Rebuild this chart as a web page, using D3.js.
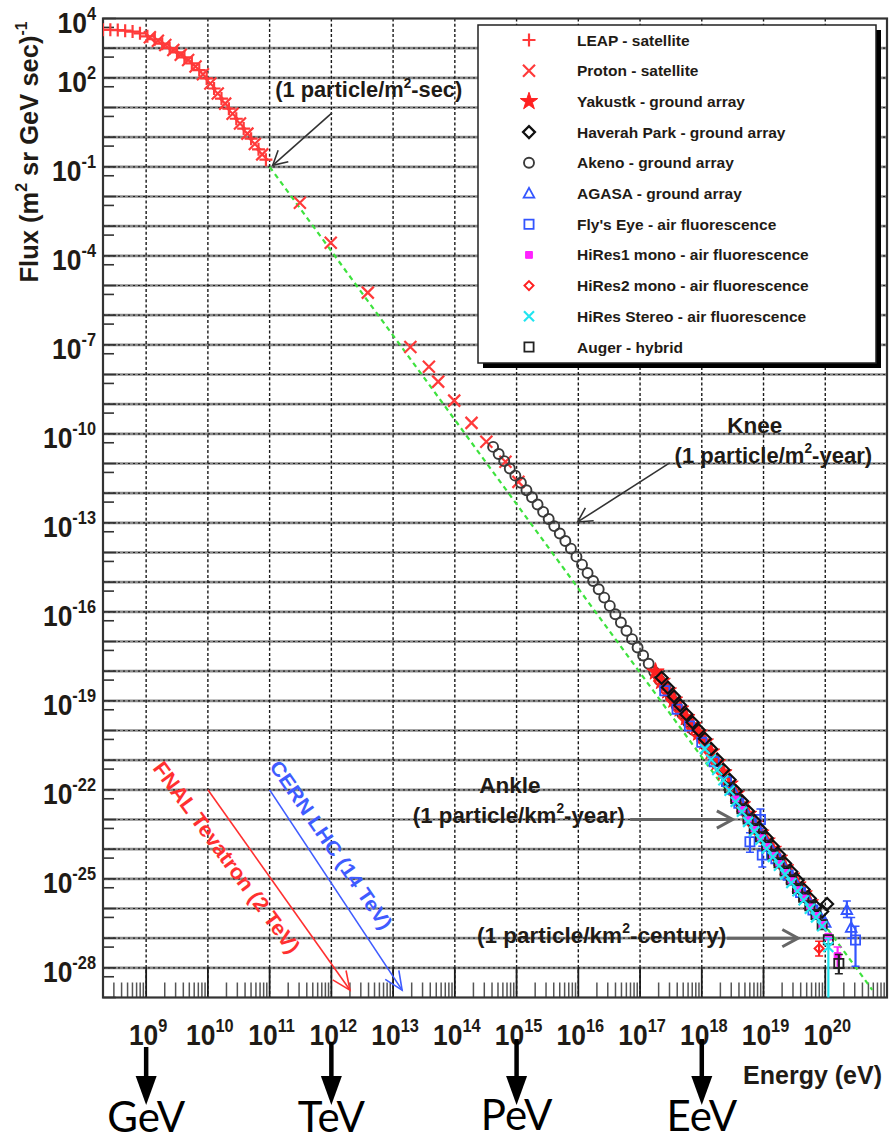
<!DOCTYPE html>
<html><head><meta charset="utf-8">
<script src="https://cdn.jsdelivr.net/npm/d3@7"></script>
<style>body{margin:0;background:#fff}</style>
</head><body>
<svg id="c" width="893" height="1141" xmlns="http://www.w3.org/2000/svg"></svg>
<script>
// ---------------- DATA (log10 Energy [eV], log10 Flux) ----------------
const xTickExps = [9,10,11,12,13,14,15,16,17,18,19,20];
const yTickExps = [4,2,-1,-4,-7,-10,-13,-16,-19,-22,-25,-28];
const unitLabels = ["GeV","TeV","PeV","EeV"];
const unitExps = [9,12,15,18];

const leap = [[8.30,3.62],[8.42,3.62],[8.54,3.61],[8.66,3.59],[8.78,3.56],[8.90,3.50],[9.02,3.40],[9.14,3.30],[9.26,3.15],[9.38,3.00],[9.50,2.86],[9.62,2.69],[9.74,2.49],[9.86,2.26],[9.98,1.98],[10.10,1.64],[10.22,1.30],[10.34,0.96],[10.46,0.62],[10.58,0.29],[10.70,-0.05],[10.82,-0.41],[10.94,-0.76]];
const proton = [[9.06,3.37],[9.19,3.25],[9.31,3.11],[9.44,2.94],[9.56,2.78],[9.68,2.60],[9.80,2.38],[9.92,2.12],[10.04,1.81],[10.16,1.47],[10.28,1.13],[10.40,0.79],[10.52,0.46],[10.64,0.12],[10.76,-0.23],[10.88,-0.58],[11.49,-2.21],[11.99,-3.56],[12.59,-5.24],[13.28,-7.07],[13.58,-7.74],[13.73,-8.24],[13.99,-8.88],[14.27,-9.63],[14.51,-10.27],[14.82,-10.94],[15.03,-11.62]];
const akeno = [[14.62,-10.44],[14.71,-10.68],[14.80,-10.92],[14.89,-11.17],[14.98,-11.41],[15.07,-11.65],[15.16,-11.90],[15.25,-12.14],[15.34,-12.38],[15.43,-12.63],[15.52,-12.87],[15.61,-13.11],[15.70,-13.36],[15.79,-13.61],[15.88,-13.87],[15.97,-14.14],[16.06,-14.41],[16.15,-14.69],[16.24,-14.96],[16.33,-15.24],[16.42,-15.52],[16.51,-15.80],[16.60,-16.08],[16.69,-16.36],[16.78,-16.64],[16.87,-16.92],[16.96,-17.20],[17.05,-17.47],[17.14,-17.75],[17.23,-18.03],[17.32,-18.31],[17.41,-18.59],[17.50,-18.87],[17.59,-19.15],[17.68,-19.43],[17.77,-19.71],[17.86,-19.98]];
const yakutsk = [[17.25,-18.02],[17.35,-18.34],[17.45,-18.66],[17.55,-18.97],[17.65,-19.27],[17.75,-19.56],[17.85,-19.83],[17.95,-20.08],[18.05,-20.38],[18.15,-20.72],[18.25,-21.08],[18.35,-21.42],[18.45,-21.80],[18.55,-22.14],[18.65,-22.50],[18.75,-22.82],[18.85,-23.15],[18.95,-23.45],[19.05,-23.72],[19.15,-24.00],[19.25,-24.30],[19.35,-24.62],[19.45,-24.90],[19.55,-25.20],[19.65,-25.50],[19.75,-25.80]];
const haverah = [[17.35,-18.22],[17.45,-18.55],[17.55,-18.85],[17.65,-19.15],[17.75,-19.45],[17.85,-19.72],[17.95,-19.98],[18.05,-20.28],[18.15,-20.62],[18.25,-20.98],[18.35,-21.32],[18.45,-21.66],[18.55,-22.04],[18.65,-22.38],[18.75,-22.72],[18.85,-23.04],[18.95,-23.34],[19.05,-23.62],[19.15,-23.90],[19.25,-24.18],[19.35,-24.48],[19.45,-24.76],[19.55,-25.05],[19.65,-25.36],[19.75,-25.66],[19.85,-25.95],[19.95,-26.10],[20.03,-25.85]];
const agasa = [[18.50,-22.00],[18.60,-22.36],[18.70,-22.70],[18.80,-23.02],[18.90,-23.32],[19.00,-23.60],[19.10,-23.90],[19.20,-24.18],[19.30,-24.48],[19.40,-24.76],[19.50,-25.06],[19.60,-25.35],[19.70,-25.64],[19.80,-25.92],[19.90,-26.20],[20.00,-26.48],[20.35,-26.05,-26.30,-25.75],[20.42,-26.65,-27.00,-26.30]];
const flysEye = [[17.40,-18.66],[17.60,-19.28],[17.80,-19.85],[18.00,-20.40],[18.20,-21.05],[18.40,-21.72],[18.60,-22.45],[18.78,-23.75,-24.10,-23.45],[18.95,-23.00,-23.30,-22.65],[18.98,-24.20,-24.60,-23.90],[19.20,-24.32],[19.40,-24.88],[19.60,-25.46],[19.80,-26.05],[20.49,-27.06,-27.95,-26.60]];
const hires1 = [[18.55,-22.32],[18.65,-22.68],[18.75,-23.02],[18.85,-23.35],[18.95,-23.63],[19.05,-23.92],[19.15,-24.22],[19.25,-24.50],[19.35,-24.80],[19.45,-25.08],[19.55,-25.38],[19.65,-25.66],[19.75,-25.96],[19.85,-26.25],[19.95,-26.55],[20.05,-26.95],[20.20,-27.60,-28.00,-27.30]];
const hires2 = [[17.30,-18.33],[17.40,-18.65],[17.50,-18.96],[17.60,-19.27],[17.70,-19.56],[17.80,-19.85],[17.90,-20.10],[18.00,-20.35],[18.10,-20.70],[18.20,-21.05],[18.30,-21.40],[18.40,-21.75],[18.50,-22.11],[18.60,-22.47],[18.70,-22.81],[18.80,-23.15],[18.90,-23.44],[19.00,-23.73],[19.10,-24.02],[19.20,-24.31],[19.30,-24.60],[19.40,-24.89],[19.90,-27.35,-27.60,-27.10]];
const hiresStereo = [[18.05,-20.62],[18.15,-20.98],[18.25,-21.33],[18.35,-21.68],[18.45,-22.03],[18.55,-22.40],[18.65,-22.74],[18.75,-23.08],[18.85,-23.40],[18.95,-23.68],[19.05,-23.98],[19.15,-24.26],[19.25,-24.56],[19.35,-24.85],[19.45,-25.14],[19.55,-25.42],[19.65,-25.72],[19.75,-26.01],[19.85,-26.30],[19.95,-26.60],[20.05,-27.30,-29.50,-27.00]];
const auger = [[18.45,-21.93],[18.55,-22.29],[18.65,-22.64],[18.75,-22.98],[18.85,-23.30],[18.95,-23.58],[19.05,-23.87],[19.15,-24.17],[19.25,-24.46],[19.35,-24.74],[19.45,-25.03],[19.55,-25.33],[19.65,-25.62],[19.75,-25.91],[19.85,-26.20],[19.95,-26.55],[20.05,-27.05],[20.22,-27.85,-28.20,-27.55]];
const fitLine = [[11.0,-1.0],[20.76,-28.74]];
const tevatron = [[10.0,-22.0],[12.301,-28.75]];   // 2 TeV
const lhc = [[11.0,-22.0],[13.146,-28.75]];        // 14 TeV
const legendNames = ["LEAP - satellite","Proton - satellite","Yakustk - ground array","Haverah Park - ground array","Akeno - ground array","AGASA - ground array","Fly's Eye - air fluorescence","HiRes1 mono - air fluorescence","HiRes2 mono - air fluorescence","HiRes Stereo - air fluorescence","Auger - hybrid"];

// ---------------- SETUP ----------------
const P = v => Math.pow(10, v);
const svg = d3.select('#c');
const L = 103, R = 887, T = 18.5, B = 997.5;
const x = d3.scaleLog().domain([2e8, 1e21]).range([L, R]);
const y = d3.scaleLog().domain([1e-29, 1e4]).range([B, T]);
const X = e => x(P(e)), Y = f => y(P(f));
const FONT = '"Liberation Sans", Arial, Helvetica, sans-serif';
const TXT = '#1f1b16';

svg.append('defs').append('clipPath').attr('id','clip')
  .append('rect').attr('x',L).attr('y',T).attr('width',R-L).attr('height',B-T);

// ---------------- GRID ----------------
const grid = svg.append('g');
d3.range(-28, 4).forEach(k => {
  grid.append('line').attr('x1',L).attr('x2',R).attr('y1',Y(k)).attr('y2',Y(k))
    .attr('stroke','#8a8a8a').attr('stroke-width',2.6);
  grid.append('line').attr('x1',L).attr('x2',R).attr('y1',Y(k)).attr('y2',Y(k))
    .attr('stroke','#222').attr('stroke-width',1.2).attr('stroke-dasharray','2,3');
});
xTickExps.forEach(k => {
  grid.append('line').attr('x1',X(k)).attr('x2',X(k)).attr('y1',T).attr('y2',B)
    .attr('stroke','#1a1a1a').attr('stroke-width',1.4).attr('stroke-dasharray','3,2.2');
  grid.append('line').attr('x1',X(k)).attr('x2',X(k)).attr('y1',B).attr('y2',B-30)
    .attr('stroke','#1a1a1a').attr('stroke-width',1.8);
});
// x minor ticks
const ticks = svg.append('g');
d3.range(8, 21).forEach(k => {
  d3.range(2, 10).forEach(m => {
    const v = m * P(k);
    if (v <= 2e8 || v >= 1e21) return;
    ticks.append('line').attr('x1',x(v)).attr('x2',x(v)).attr('y1',B).attr('y2',B-15)
      .attr('stroke','#555').attr('stroke-width',1.5);
  });
});
// y ticks
d3.range(-29, 5).forEach(k => {
  ticks.append('line').attr('x1',L).attr('x2',L+13).attr('y1',Y(k)).attr('y2',Y(k))
    .attr('stroke','#333').attr('stroke-width',1.6);
  if (k < 4) {
    const v = 5 * P(k);
    ticks.append('line').attr('x1',L).attr('x2',L+11).attr('y1',y(v)).attr('y2',y(v))
      .attr('stroke','#333').attr('stroke-width',1.6);
  }
});

// ---------------- TEXT HELPERS ----------------
function label(g, tx, ty, parts, size, opts = {}) {
  const sx = opts.sx || 1, anchor = opts.anchor || 'start', rot = opts.rot || 0;
  const gg = g.append('g').attr('transform', `translate(${tx},${ty}) rotate(${rot}) scale(${sx},1)`);
  const t = gg.append('text').attr('x',0).attr('y',0).attr('text-anchor',anchor)
    .attr('font-family', opts.family || FONT).attr('font-weight', opts.weight || 'bold')
    .attr('font-size', size).attr('fill', opts.fill || TXT);
  let up = false;
  parts.forEach(p => {
    const isSup = typeof p === 'object';
    const s = t.append('tspan').text(isSup ? p.sup : p);
    if (isSup) { s.attr('font-size', size * (opts.supScale || 0.62)).attr('dy', -size * 0.42); up = true; }
    else if (up) { s.attr('dy', size * 0.42); up = false; }
  });
  return t;
}

// ---------------- AXIS LABELS ----------------
const axl = svg.append('g');
xTickExps.forEach(k => label(axl, X(k)+2, 1045, ['10', {sup: String(k)}], 30, {anchor:'middle', sx:0.88}));
yTickExps.forEach(k => label(axl, 96, Y(k)+14, ['10', {sup: String(k)}], 30, {anchor:'end', sx:0.88}));
label(axl, 38, 152, ['Flux (m', {sup:'2'}, ' sr GeV sec)', {sup:'-1'}], 25.5, {anchor:'middle', rot:-90});
label(axl, 882, 1084, ['Energy (eV)'], 25, {anchor:'end'});

// ---------------- FRAME ----------------
svg.append('rect').attr('x',L).attr('y',T).attr('width',R-L).attr('height',B-T)
  .attr('fill','none').attr('stroke','#333').attr('stroke-width',2.2);

// ---------------- ACCELERATOR ARROWS ----------------
function arrowHead(g, x1, y1, x2, y2, len, ang, color, w) {
  const a = Math.atan2(y2-y1, x2-x1);
  const pts = [[x2-len*Math.cos(a-ang), y2-len*Math.sin(a-ang)], [x2,y2], [x2-len*Math.cos(a+ang), y2-len*Math.sin(a+ang)]];
  g.append('path').attr('d', d3.line()(pts)).attr('fill','none').attr('stroke',color).attr('stroke-width',w)
    .attr('stroke-linejoin','miter');
}
function accel(line, color, text, along, perp, size, len) {
  const g = svg.append('g');
  const x1 = X(line[0][0]), y1 = Y(line[0][1]), x2 = X(line[1][0]), y2 = Y(line[1][1]);
  g.append('line').attr('x1',x1).attr('y1',y1).attr('x2',x2).attr('y2',y2).attr('stroke',color).attr('stroke-width',1.6);
  arrowHead(g, x1, y1, x2, y2, 20, 0.42, color, 1.6);
  const a = Math.atan2(y2-y1, x2-x1);
  const ux = Math.cos(a), uy = Math.sin(a), nx = -Math.sin(a), ny = Math.cos(a);
  const tx = x1 + ux*along + nx*perp, ty = y1 + uy*along + ny*perp;
  g.append('text').attr('transform', `translate(${tx},${ty}) rotate(${a*180/Math.PI - 1})`)
    .attr('text-anchor','middle').attr('font-family',FONT).attr('font-weight','bold')
    .attr('font-size',size).attr('fill',color).attr('textLength',len).attr('lengthAdjust','spacingAndGlyphs')
    .text(text);
}
accel(tevatron, '#ff3030', 'FNAL Tevatron (2 TeV)', 66, 31, 21, 232);
accel(lhc, '#3f5cff', 'CERN LHC (14 TeV)', 80, -14, 20, 200);

// ---------------- DATA MARKS ----------------
const plot = svg.append('g').attr('clip-path','url(#clip)');
plot.append('line').attr('x1',X(fitLine[0][0])).attr('y1',Y(fitLine[0][1]))
  .attr('x2',X(fitLine[1][0])).attr('y2',Y(fitLine[1][1]))
  .attr('stroke','#3ee23e').attr('stroke-width',2.2).attr('stroke-dasharray','5,4');

const shapes = {
  plus: s => `M${-s},0H${s}M0,${-s}V${s}`,
  cross: s => `M${-s},${-s}L${s},${s}M${-s},${s}L${s},${-s}`,
  star: s => d3.symbol(d3.symbolStar, s*s*2.6)(),
  diamond: s => `M0,${-s}L${s},0L0,${s}L${-s},0Z`,
  circle: s => d3.symbol(d3.symbolCircle, Math.PI*s*s)(),
  triangle: s => `M0,${-s}L${s*0.95},${s*0.72}L${-s*0.95},${s*0.72}Z`,
  square: s => `M${-s},${-s}H${s}V${s}H${-s}Z`,
  fsquare: s => `M${-s},${-s}H${s}V${s}H${-s}Z`
};
const series = [
  {data: leap, shape:'plus', s:6.5, stroke:'#ff3a3a', fill:'none', w:2.2},
  {data: proton, shape:'cross', s:6, stroke:'#ff3a3a', fill:'none', w:2.2},
  {data: akeno, shape:'circle', s:5, stroke:'#3a3a3a', fill:'none', w:1.9},
  {data: yakutsk, shape:'star', s:6, stroke:'#ff2020', fill:'#ff2020', w:1},
  {data: hires2, shape:'diamond', s:4.5, stroke:'#ff2020', fill:'none', w:2},
  {data: flysEye, shape:'square', s:4.6, stroke:'#3355ff', fill:'none', w:1.8},
  {data: agasa, shape:'triangle', s:5.6, stroke:'#3355ff', fill:'none', w:1.8},
  {data: haverah, shape:'diamond', s:6, stroke:'#111', fill:'none', w:2.2},
  {data: hires1, shape:'fsquare', s:3.4, stroke:'#ff22ff', fill:'#ff22ff', w:1},
  {data: auger, shape:'square', s:4.6, stroke:'#222', fill:'none', w:1.8},
  {data: hiresStereo, shape:'cross', s:5, stroke:'#22e5f0', fill:'none', w:2.2}
];
series.forEach(sr => {
  const g = plot.append('g');
  sr.data.filter(d => d.length > 2).forEach(d => {
    g.append('line').attr('x1',X(d[0])).attr('x2',X(d[0])).attr('y1',Y(d[2])).attr('y2',Y(d[3]))
      .attr('stroke',sr.stroke).attr('stroke-width',2.2);
    [d[2], d[3]].forEach(v => g.append('line').attr('x1',X(d[0])-4).attr('x2',X(d[0])+4)
      .attr('y1',Y(v)).attr('y2',Y(v)).attr('stroke',sr.stroke).attr('stroke-width',1.5));
  });
  g.selectAll('path').data(sr.data).join('path')
    .attr('transform', d => `translate(${X(d[0])},${Y(d[1])})`)
    .attr('d', shapes[sr.shape](sr.s))
    .attr('fill', sr.fill).attr('stroke', sr.stroke).attr('stroke-width', sr.w);
});

// ---------------- ANNOTATIONS ----------------
const ann = svg.append('g');
function annArrow(x1e, y1e, x2e, y2e, color, w, len) {
  const x1 = X(x1e), y1 = Y(y1e), x2 = X(x2e), y2 = Y(y2e);
  ann.append('line').attr('x1',x1).attr('y1',y1).attr('x2',x2).attr('y2',y2).attr('stroke',color).attr('stroke-width',w);
  arrowHead(ann, x1, y1, x2, y2, len, 0.5, color, w);
}
label(ann, X(11.09), Y(1.35), ['(1 particle/m', {sup:'2'}, '-sec)'], 22.5, {sx:0.97});
annArrow(12.01, 0.82, 11.05, -0.95, '#333', 1.6, 16);

label(ann, X(18.86), Y(-9.97), ['Knee'], 22.5, {anchor:'middle'});
label(ann, X(17.56), Y(-10.98), ['(1 particle/m', {sup:'2'}, '-year)'], 22.5, {sx:0.98});
annArrow(17.48, -10.98, 15.99, -12.97, '#333', 1.6, 16);

label(ann, X(14.89), Y(-22.1), ['Ankle'], 22.5, {anchor:'middle'});
label(ann, X(13.32), Y(-23.11), ['(1 particle/km', {sup:'2'}, '-year)'], 22.5, {sx:0.99});
annArrow(16.84, -23.0, 18.50, -23.0, '#666', 3, 18);

label(ann, X(14.36), Y(-27.15), ['(1 particle/km', {sup:'2'}, '-century)'], 22.5, {sx:1.0});
annArrow(18.41, -27.0, 19.56, -27.0, '#666', 3, 18);

// ---------------- LEGEND ----------------
const lg = svg.append('g');
const lx = 478, ly = 25, lw = 398, lh = 338;
lg.append('rect').attr('x',lx+5).attr('y',ly+5).attr('width',lw).attr('height',lh).attr('fill','#000');
lg.append('rect').attr('x',lx).attr('y',ly).attr('width',lw).attr('height',lh).attr('fill','#fff')
  .attr('stroke','#222').attr('stroke-width',1.5);
const legendOrder = [0,1,3,7,2,6,5,8,4,10,9]; // series index per legend row
legendNames.forEach((name, i) => {
  const sr = series[legendOrder[i]];
  const cy = 40 + i * 30.7;
  lg.append('path').attr('transform',`translate(529,${cy})`).attr('d', shapes[sr.shape](sr.s))
    .attr('fill', sr.fill).attr('stroke', sr.stroke).attr('stroke-width', sr.w);
  label(lg, 577, cy + 5.5, [name], 15.5);
});

// ---------------- UNIT ARROWS ----------------
const ua = svg.append('g');
const unitTop = [1047, 1042, 1039, 1039];
const unitBase = [1132, 1132, 1130, 1131];
unitExps.forEach((k, i) => {
  const cx = X(k);
  ua.append('line').attr('x1',cx).attr('x2',cx).attr('y1',unitTop[i]).attr('y2',1080)
    .attr('stroke','#000').attr('stroke-width',4.5);
  ua.append('path').attr('d', `M${cx-10.5},1076L${cx+10.5},1076L${cx},1105Z`).attr('fill','#000');
  ua.append('text').attr('x', cx).attr('y', unitBase[i]).attr('text-anchor','middle')
    .attr('font-family','Lato, "Noto Sans", sans-serif').attr('font-size',42).attr('fill','#000')
    .text(unitLabels[i]);
});
</script>
</body></html>
